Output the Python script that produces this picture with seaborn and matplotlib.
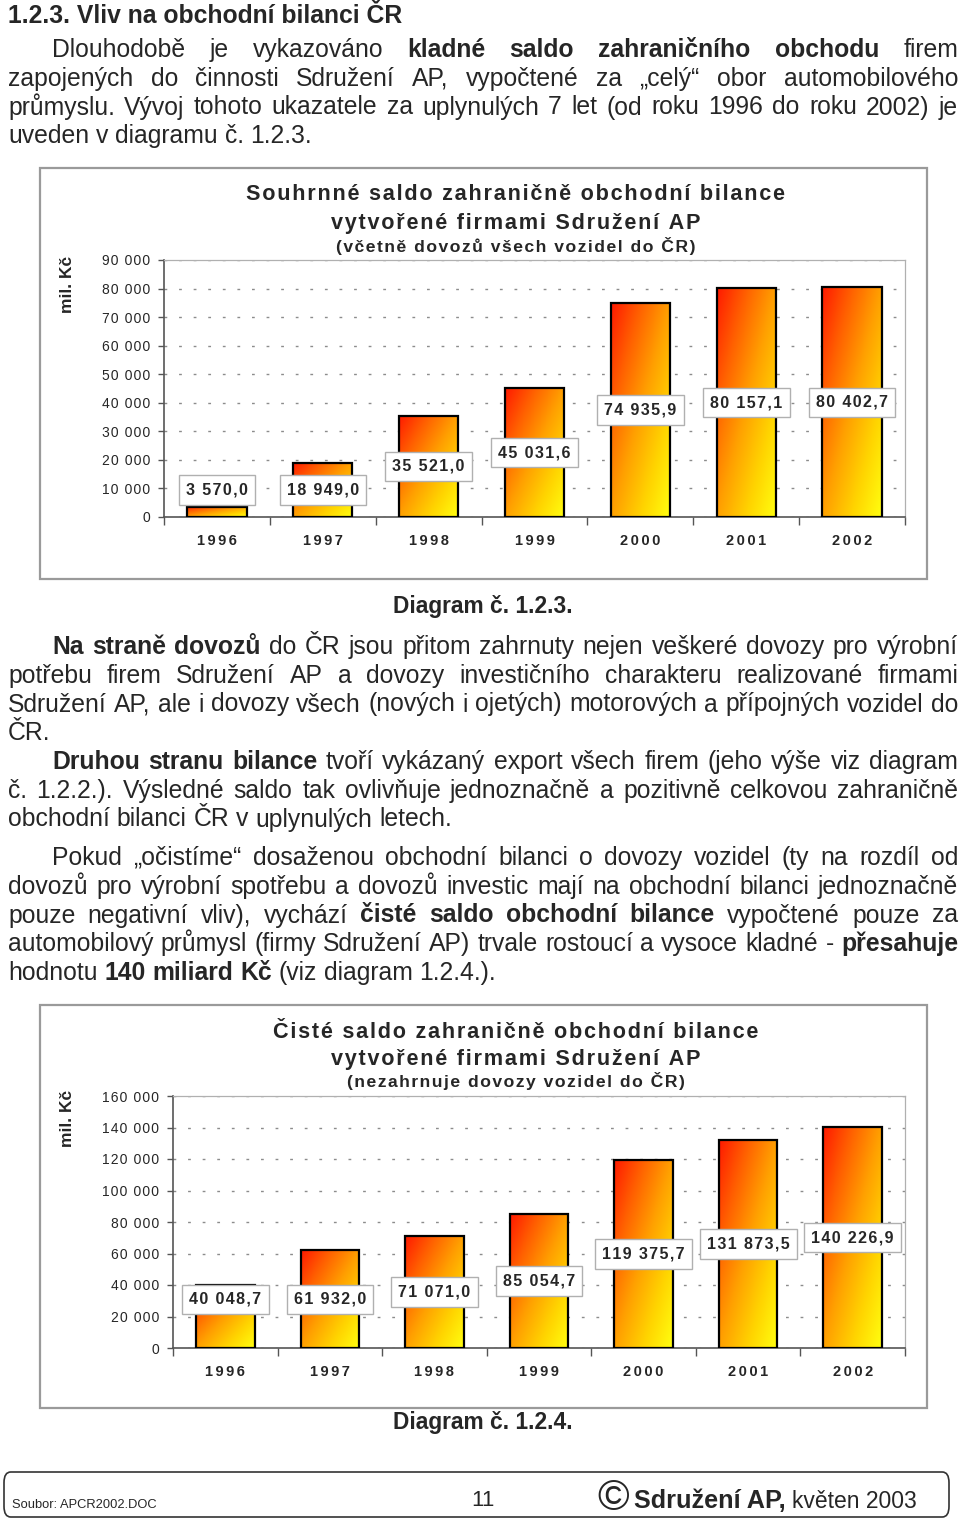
import numpy as np
import matplotlib
matplotlib.use('Agg')
import matplotlib.pyplot as plt
import seaborn as sns
from matplotlib.colors import LinearSegmentedColormap
from matplotlib.patches import Rectangle, FancyBboxPatch

# ---- data ----
years = ['1996', '1997', '1998', '1999', '2000', '2001', '2002']
saldo_total = [3570.0, 18949.0, 35521.0, 45031.6, 74935.9, 80157.1, 80402.7]
saldo_net = [40048.7, 61932.0, 71071.0, 85054.7, 119375.7, 131873.5, 140226.9]
total_ticks = list(range(0, 90001, 10000))
net_ticks = list(range(0, 160001, 20000))

heading = '1.2.3. Vliv na obchodní bilanci ČR'
para_a = ['Dlouhodobě je vykazováno **kladné saldo zahraničního obchodu** firem',
          'zapojených do činnosti Sdružení AP, vypočtené za „celý“ obor automobilového',
          'průmyslu. Vývoj tohoto ukazatele za uplynulých 7 let (od roku 1996 do roku 2002) je',
          'uveden v diagramu č. 1.2.3.']
para_b = ['**Na straně dovozů** do ČR jsou přitom zahrnuty nejen veškeré dovozy pro výrobní',
          'potřebu firem Sdružení AP a dovozy investičního charakteru realizované firmami',
          'Sdružení AP, ale i dovozy všech (nových i ojetých) motorových a přípojných vozidel do',
          'ČR.']
para_c = ['**Druhou stranu bilance** tvoří vykázaný export všech firem (jeho výše viz diagram',
          'č. 1.2.2.). Výsledné saldo tak ovlivňuje jednoznačně a pozitivně celkovou zahraničně',
          'obchodní bilanci ČR v uplynulých letech.']
para_d = ['Pokud „očistíme“ dosaženou obchodní bilanci o dovozy vozidel (ty na rozdíl od',
          'dovozů pro výrobní spotřebu a dovozů investic mají na obchodní bilanci jednoznačně',
          'pouze negativní vliv), vychází **čisté saldo obchodní bilance** vypočtené pouze za',
          'automobilový průmysl (firmy Sdružení AP) trvale rostoucí a vysoce kladné - **přesahuje**',
          'hodnotu **140 miliard Kč** (viz diagram 1.2.4.).']

title_total = ['Souhrnné saldo zahraničně obchodní bilance',
               'vytvořené firmami Sdružení AP',
               '(včetně dovozů všech vozidel do ČR)']
title_net = ['Čisté saldo zahraničně obchodní bilance',
             'vytvořené firmami Sdružení AP',
             '(nezahrnuje dovozy vozidel do ČR)']
unit_label = 'mil. Kč'
caption_total = 'Diagram č. 1.2.3.'
caption_net = 'Diagram č. 1.2.4.'

sns.set_theme(style='white')
plt.rcParams['font.family'] = ['Liberation Sans', 'DejaVu Sans']

W, H = 960, 1519
fig = plt.figure(figsize=(W / 100, H / 100), dpi=100)
renderer = fig.canvas.get_renderer()
HS = '\u200a'


def fx(x):
    return x / W


def fy(y):
    return 1 - y / H


def spaced(s, n=1):
    return (HS * n).join(s)


def fmt_val(v):
    return f'{v:,.1f}'.replace(',', ' ').replace('.', ',')


def fmt_int(v):
    return f'{v:,d}'.replace(',', ' ')


BODY = 17.8


def draw_paragraph(lines, y0, step=28.75, left=8, right=958, indent=44):
    for k, line in enumerate(lines):
        parts = line.split('**')
        words = []
        for j, part in enumerate(parts):
            for w in part.split():
                words.append((w, 'bold' if j % 2 else 'normal'))
        x_start = left + (indent if k == 0 else 0)
        y = fy(y0 + k * step + 8)
        arts, widths = [], []
        for w, wt in words:
            t = fig.text(0, y, w, fontsize=BODY, fontweight=wt, va='baseline', ha='left')
            arts.append(t)
            widths.append(t.get_window_extent(renderer).width)
        last = k == len(lines) - 1
        if last or len(words) < 2:
            gap = 0.278 * BODY / 0.72
        else:
            gap = (right - x_start - sum(widths)) / (len(words) - 1)
        x = x_start
        for t, wdt in zip(arts, widths):
            t.set_x(fx(x))
            x += wdt + gap


def gradient_bars(ax):
    cmap = LinearSegmentedColormap.from_list(
        'bar', ['#ff1a00', '#ff6000', '#ffa000', '#ffd400', '#ffff10'])
    gu, gv = np.meshgrid(np.linspace(0, 1, 64), np.linspace(0, 1, 256))
    grad = (gu + gv) / 2
    for p in ax.patches:
        x0, w, h = p.get_x(), p.get_width(), p.get_height()
        im = ax.imshow(grad, cmap=cmap, vmin=0, vmax=1, extent=[x0, x0 + w, 0, h],
                       origin='upper', aspect='auto', zorder=2, interpolation='bilinear')
        im.set_clip_path(p)
        p.set_facecolor('none')
        p.set_edgecolor('black')
        p.set_linewidth(1.6)
        p.set_zorder(3)


def draw_chart(box, axbox, values, ticks, titles, title_y, unit_y):
    bx0, by0, bx1, by1 = box
    fig.add_artist(Rectangle((fx(bx0), fy(by1)), (bx1 - bx0) / W, (by1 - by0) / H,
                             transform=fig.transFigure, fill=False, ec='#9a9a9a', lw=1.6))
    ax0, ay0, ax1, ay1 = axbox
    ax = fig.add_axes([fx(ax0), fy(ay1), (ax1 - ax0) / W, (ay1 - ay0) / H])
    sns.barplot(x=years, y=values, ax=ax, width=0.56, color='orange')
    gradient_bars(ax)
    ax.set_xlim(-0.5, len(years) - 0.5)
    ax.set_ylim(0, ticks[-1])
    ax.set_yticks(ticks)
    ax.set_yticklabels([spaced(fmt_int(t)) for t in ticks], fontsize=10)
    ax.set_xticks(range(len(years)))
    ax.set_xticklabels([spaced(y, 2) for y in years], fontsize=10.5, fontweight='bold')
    ax.set_xticks(np.arange(-0.5, len(years), 1), minor=True)
    ax.tick_params(axis='x', which='major', length=0, pad=12.5)
    ax.tick_params(axis='x', which='minor', length=6, width=1, color='#555555', bottom=True)
    ax.tick_params(axis='y', length=4.5, width=1, color='#555555', pad=5.5, left=True)
    ax.yaxis.grid(True, color='#8c8c8c', linestyle=(0, (2, 8.5)), lw=1)
    ax.set_axisbelow(True)
    ax.set_xlabel('')
    ax.set_ylabel('')
    for s in ['top', 'right']:
        ax.spines[s].set_color('#b0b0b0')
        ax.spines[s].set_linewidth(0.9)
    for s in ['left', 'bottom']:
        ax.spines[s].set_color('#555555')
        ax.spines[s].set_linewidth(1.2)
    label_y = np.maximum(np.array(values) / 2, values[1] / 2)
    for i, (v, yy) in enumerate(zip(values, label_y)):
        ax.text(i, yy, spaced(fmt_val(v)), ha='center', va='center', fontsize=11.5,
                fontweight='bold', zorder=6,
                bbox=dict(boxstyle='square,pad=0.45', fc='white', ec='#b0b0b0', lw=1))
    cx = 516
    fig.text(fx(cx), fy(title_y[0]), spaced(titles[0]), fontsize=15.6, fontweight='bold',
             ha='center', va='center')
    fig.text(fx(cx), fy(title_y[1]), spaced(titles[1]), fontsize=15.6, fontweight='bold',
             ha='center', va='center')
    fig.text(fx(cx), fy(title_y[2]), spaced(titles[2]), fontsize=12.6, fontweight='bold',
             ha='center', va='center')
    fig.text(fx(68), fy(unit_y), unit_label, fontsize=12.5, fontweight='bold',
             rotation=90, ha='center', va='center')
    return ax


# heading and text
fig.text(fx(8), fy(23), heading, fontsize=BODY, fontweight='bold', va='baseline')
draw_paragraph(para_a, 49)
draw_chart((40, 168, 927, 579), (164, 260, 905, 517), saldo_total, total_ticks,
           title_total, (195, 224, 246), 284)
fig.text(fx(483), fy(606), caption_total, fontsize=16.4, fontweight='bold',
         ha='center', va='center')
draw_paragraph(para_b, 646)
draw_paragraph(para_c, 761)
draw_paragraph(para_d, 857)
draw_chart((40, 1005, 927, 1408), (173, 1096, 905, 1348), saldo_net, net_ticks,
           title_net, (1032, 1060, 1081), 1118)
fig.text(fx(483), fy(1423), caption_net, fontsize=16.4, fontweight='bold',
         ha='center', va='center')

# footer
fig.add_artist(FancyBboxPatch((fx(4), fy(1517)), (949 - 4) / W, (1517 - 1472) / H,
                              boxstyle='round,pad=0,rounding_size=0.007',
                              transform=fig.transFigure, fill=False, ec='#333333', lw=1.2))
fig.text(fx(12), fy(1505), 'Soubor: APCR2002.DOC', fontsize=9.3, va='center')
fig.text(fx(483), fy(1500), '11', fontsize=16, ha='center', va='center')
fig.text(fx(613), fy(1499), '©', fontsize=31, ha='center', va='center')
fig.text(fx(792), fy(1508), 'květen 2003', fontsize=16.5, ha='left', va='baseline')
fig.text(fx(786), fy(1508), 'Sdružení AP,', fontsize=18.2, fontweight='bold',
         ha='right', va='baseline')

fig.savefig('out.png', dpi=100, facecolor='white')
